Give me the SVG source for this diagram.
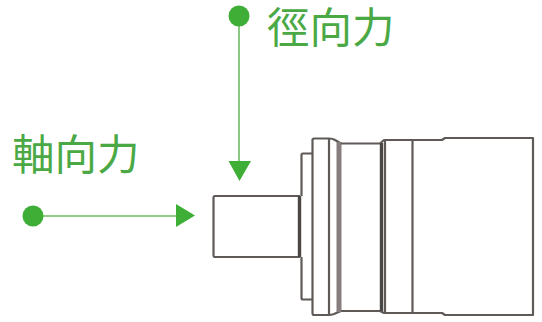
<svg xmlns="http://www.w3.org/2000/svg" width="542" height="322" viewBox="0 0 542 322">
<style>
.o{fill:none;stroke:#5f5a58;stroke-width:2.2;stroke-linejoin:round}
.t{fill:none;stroke-width:5;stroke:#857e7c}
.k{fill:none;stroke-width:3.4;stroke:#4a4644}
.c{fill:none;stroke:#6cbc62;stroke-width:1.6}
.g{fill:#3eae37}
.l{font-family:"Noto Sans CJK TC","Noto Sans CJK SC",sans-serif;font-size:42.500px;font-weight:400;fill:#4aa945}
</style>
<rect width="542" height="322" fill="#fff"/>
<g id="motor">
<path class="o" d="M300 196H215Q213.500 196 213.500 198V255Q213.500 257 215 257H300"/>
<path class="k" d="M299.500 196V257"/>
<path class="o" d="M312 153.500H303Q301.500 153.500 301.500 155V196M301.500 257V298Q301.500 299.500 303 299.500H312"/>
<path class="o" d="M329 138.500H314Q312.500 138.500 312.500 140V313Q312.500 315 314 315H329Q331 315 334 314L341 311"/>
<path class="o" d="M329 138.500Q333 138.500 335 140L341 143.500"/>
<path class="o" d="M329 139V315"/>
<path class="t" d="M339 142V312"/>
<path class="o" d="M341 143.500H380L384 140H442L445 138H533V315H445L442 313H384L380 311H341"/>
<path class="k" d="M381.500 143V311"/>
<path class="o" d="M385 140V313M412.500 140V313"/>
</g>
<g id="connectors">
<line class="c" x1="239" y1="16" x2="239" y2="165"/>
<polygon class="g" points="228.500,161 251,161 239.500,181"/>
<circle class="g" cx="239" cy="16" r="10.500"/>
<line class="c" x1="33" y1="216" x2="178" y2="216"/>
<polygon class="g" points="176,204 176,227 195,215.500"/>
<circle class="g" cx="33" cy="216" r="10.500"/>
</g>
<g id="label-radial"><text class="l" x="267" y="43">徑向力</text></g>
<g id="label-axial"><text class="l" x="12" y="170">軸向力</text></g>
</svg>
